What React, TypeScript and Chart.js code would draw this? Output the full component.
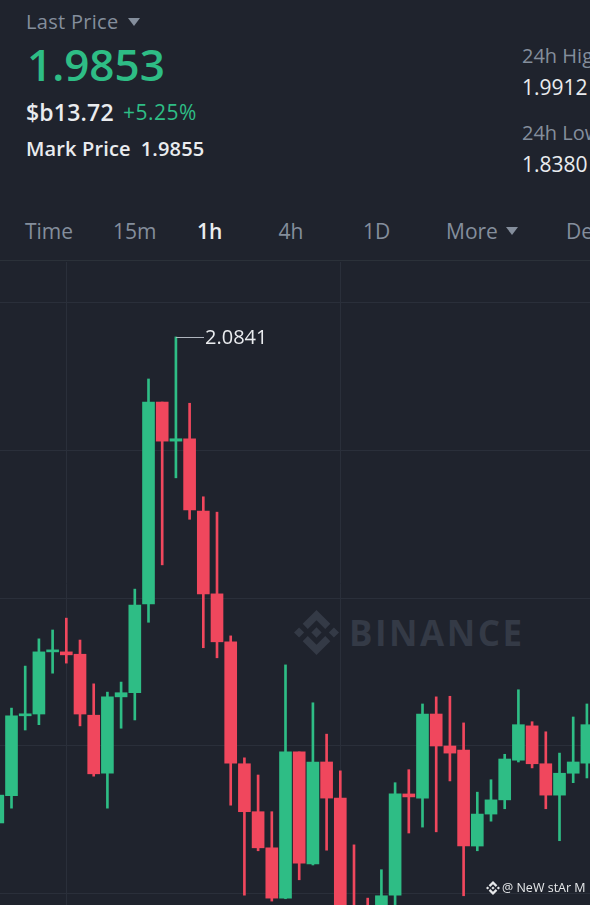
import React, { useEffect, useRef } from "react";
import { Chart, registerables } from "chart.js";

Chart.register(...registerables);

// ---- data (1h candles) ----
const opens = [2.0020, 2.0066, 2.0201, 2.0204, 2.0309, 2.0309, 2.0305, 2.0202, 2.0104, 2.0233, 2.0240, 2.0390, 2.0731, 2.0665, 2.0669, 2.0547, 2.0407, 2.0326, 2.0120, 2.0039, 1.9978, 1.9893, 2.0140, 1.9951, 2.0123, 2.0062, 1.9864, 1.9831, 1.9805, 1.9898, 2.0069, 2.0062, 2.0204, 2.0150, 2.0143, 1.9981, 2.0035, 2.0059, 2.0126, 2.0184, 2.0120, 2.0067, 2.0104, 2.0121];
const closes = [2.0067, 2.0201, 2.0204, 2.0309, 2.0312, 2.0304, 2.0204, 2.0103, 2.0233, 2.0240, 2.0388, 2.0731, 2.0665, 2.0669, 2.0549, 2.0407, 2.0326, 2.0121, 2.0039, 1.9978, 1.9893, 2.0140, 1.9952, 2.0123, 2.0062, 1.9839, 1.9805, 1.9789, 1.9897, 2.0069, 2.0064, 2.0204, 2.0150, 2.0138, 1.9981, 2.0035, 2.0059, 2.0128, 2.0186, 2.0120, 2.0067, 2.0104, 2.0123, 2.0186];
const highs = [2.0076, 2.0214, 2.0285, 2.0331, 2.0346, 2.0366, 2.0329, 2.0255, 2.0241, 2.0258, 2.0415, 2.0770, 2.0731, 2.0841, 2.0729, 2.0571, 2.0545, 2.0336, 2.0130, 2.0101, 2.0039, 2.0287, 2.0140, 2.0223, 2.0170, 2.0108, 1.9983, 1.9893, 1.9941, 2.0088, 2.0110, 2.0221, 2.0233, 2.0234, 2.0189, 2.0072, 2.0093, 2.0136, 2.0245, 2.0191, 2.0174, 2.0138, 2.0199, 2.0221];
const lows = [2.0011, 2.0045, 2.0177, 2.0186, 2.0273, 2.0290, 2.0184, 2.0099, 2.0045, 2.0180, 2.0194, 2.0359, 2.0456, 2.0603, 2.0533, 2.0316, 2.0299, 2.0050, 1.9898, 1.9973, 1.9888, 1.9892, 1.9924, 1.9949, 1.9974, 1.9814, 1.9789, 1.9763, 1.9789, 1.9864, 2.0003, 2.0013, 2.0005, 2.0091, 1.9897, 1.9973, 2.0023, 2.0044, 2.0123, 2.0113, 2.0044, 1.9990, 2.0088, 2.0096];

const gridPrices = [2.09, 2.065, 2.04, 2.015, 1.99];
const gridCandles = [5, 25];
const timeTabs = ["Time", "15m", "1h", "4h", "1D", "More", "Depth"];

const header = {
  lastPrice: "1.9853",
  fiat: "$b13.72",
  change: "+5.25%",
  markPrice: "1.9855",
  high24: "1.9912",
  low24: "1.8380",
};

const BG = "#1f232d";
const GREEN = "#2ebd85";
const RED = "#f0475d";
const GRAY = "#848e9c";
const WHITE = "#eaecef";
const GRID = "#2a2f3a";
const FONT = "'Open Sans', 'Noto Sans', sans-serif";

function BinanceLogo({ size, color }: { size: number; color: string }) {
  return (
    <svg width={size} height={size} viewBox="0 0 126.6 126.6" style={{ display: "block" }}>
      <g fill={color}>
        <polygon points="63.3,0 102.2,38.9 87.9,53.2 63.3,28.6 38.7,53.2 24.4,38.9" />
        <polygon points="63.3,126.6 102.2,87.7 87.9,73.4 63.3,98 38.7,73.4 24.4,87.7" />
        <polygon points="0,63.3 14.3,49 28.6,63.3 14.3,77.6" />
        <polygon points="98,63.3 112.3,49 126.6,63.3 112.3,77.6" />
        <polygon points="63.3,48.8 77.8,63.3 63.3,77.8 48.8,63.3" />
      </g>
    </svg>
  );
}

const Tri = ({ left, top, color }: { left: number; top: number; color: string }) => (
  <div
    style={{
      position: "absolute",
      left,
      top,
      width: 0,
      height: 0,
      borderLeft: "6.5px solid transparent",
      borderRight: "6.5px solid transparent",
      borderTop: `8px solid ${color}`,
    }}
  />
);

const txt = (
  left: number,
  top: number,
  size: number,
  color: string,
  weight = 400,
  spacing = 0
): React.CSSProperties => ({
  position: "absolute",
  left,
  top,
  fontSize: size,
  lineHeight: `${size}px`,
  color,
  fontWeight: weight,
  whiteSpace: "nowrap",
  fontFamily: FONT,
  letterSpacing: spacing,
});

export default function App() {
  const canvasRef = useRef<HTMLCanvasElement | null>(null);

  useEffect(() => {
    const canvas = canvasRef.current;
    if (!canvas) return;
    const idx = opens.map((_, i) => i);
    const colors = idx.map((i) => (closes[i] >= opens[i] ? GREEN : RED));

    const peakLabel = {
      id: "peakLabel",
      afterDatasetsDraw(chart: any) {
        const xs = chart.scales.x;
        const ys = chart.scales.y;
        let mi = 0;
        highs.forEach((h, i) => {
          if (h > highs[mi]) mi = i;
        });
        const x = Math.round(xs.getPixelForValue(mi));
        const y = Math.round(ys.getPixelForValue(highs[mi])) + 0.5;
        const ctx = chart.ctx;
        ctx.save();
        ctx.strokeStyle = "#aeb4bd";
        ctx.lineWidth = 1;
        ctx.beginPath();
        ctx.moveTo(x, y);
        ctx.lineTo(x + 28, y);
        ctx.stroke();
        ctx.fillStyle = WHITE;
        ctx.font = `20px ${FONT}`;
        ctx.textBaseline = "middle";
        ctx.textAlign = "left";
        ctx.fillText(highs[mi].toFixed(4), x + 29, y + 1);
        ctx.restore();
      },
    };

    const chart = new Chart(canvas, {
      type: "bar",
      data: {
        datasets: [
          {
            label: "wick",
            data: idx.map((i) => ({ x: i, y: [lows[i], highs[i]] })) as any,
            backgroundColor: colors,
            borderWidth: 0,
            barThickness: 2,
            grouped: false,
            order: 2,
          },
          {
            label: "body",
            data: idx.map((i) => ({ x: i, y: [opens[i], closes[i]] })) as any,
            backgroundColor: colors,
            borderWidth: 0,
            barThickness: 12,
            minBarLength: 2,
            grouped: false,
            order: 1,
          },
        ],
      },
      options: {
        responsive: false,
        animation: false,
        devicePixelRatio: 1,
        layout: { padding: 0 },
        plugins: { legend: { display: false }, tooltip: { enabled: false } },
        scales: {
          x: {
            type: "linear",
            min: 0.16,
            max: 43.226,
            offset: false,
            afterBuildTicks: (s: any) => {
              s.ticks = gridCandles.map((v) => ({ value: v }));
            },
            afterFit: (s: any) => {
              s.height = 0;
            },
            ticks: { display: false },
            border: { display: false },
            grid: { color: GRID, lineWidth: 1, drawTicks: false, offset: false },
          },
          y: {
            type: "linear",
            min: 1.98814,
            max: 2.09676,
            beginAtZero: false,
            afterBuildTicks: (s: any) => {
              s.ticks = gridPrices.map((v) => ({ value: v }));
            },
            afterFit: (s: any) => {
              s.width = 0;
            },
            ticks: { display: false },
            border: { display: false },
            grid: { color: GRID, lineWidth: 1, drawTicks: false },
          },
        },
      } as any,
      plugins: [peakLabel],
    });
    return () => chart.destroy();
  }, []);

  const tabX = [25, 113, 197, 278.5, 363, 446, 566];

  return (
    <div
      style={{
        position: "fixed",
        left: 0,
        top: 0,
        width: 590,
        height: 905,
        background: BG,
        overflow: "hidden",
        fontFamily: FONT,
      }}
    >
      {/* header */}
      <div style={txt(26, 11.5, 20, GRAY, 400, 0.3)}>Last Price</div>
      <Tri left={128} top={18} color={GRAY} />
      <div style={txt(27, 42, 44, GREEN, 600)}>{header.lastPrice}</div>
      <div style={txt(26, 100.5, 23, WHITE, 600, 0.2)}>{header.fiat}</div>
      <div style={txt(123, 102, 21, GREEN, 500, 0.5)}>{header.change}</div>
      <div style={txt(26, 138.5, 20, WHITE, 600, 0.15)}>
        Mark Price<span style={{ marginLeft: 10 }}>{header.markPrice}</span>
      </div>

      <div style={txt(522, 45.5, 20, GRAY)}>24h High</div>
      <div style={txt(522, 76.5, 21, WHITE)}>{header.high24}</div>
      <div style={txt(522, 122.5, 20, GRAY)}>24h Low</div>
      <div style={txt(522, 153.5, 21, WHITE)}>{header.low24}</div>

      {/* tabs */}
      {timeTabs.map((t, i) => (
        <div
          key={t}
          style={txt(tabX[i], 221.3, 21, t === "1h" ? WHITE : GRAY, t === "1h" ? 600 : 400)}
        >
          {t}
        </div>
      ))}
      <Tri left={506} top={227} color={GRAY} />
      <div style={{ position: "absolute", left: 0, top: 260, width: 590, height: 1, background: "#2b3139" }} />

      {/* watermark */}
      <div style={{ position: "absolute", left: 294, top: 610 }}>
        <BinanceLogo size={45} color="#343a46" />
      </div>
      <div style={{ ...txt(349, 614.5, 35, "#343a46", 700), letterSpacing: 2.5 }}>BINANCE</div>

      <canvas
        ref={canvasRef}
        width={590}
        height={643}
        style={{ position: "absolute", left: 0, top: 262, width: 590, height: 643 }}
      />

      <div style={{ position: "absolute", left: 486, top: 881 }}>
        <BinanceLogo size={14} color="#e6e8ea" />
      </div>
      <div style={txt(502, 882, 12.5, "#e6e8ea")}>@ NeW stAr M</div>
    </div>
  );
}
